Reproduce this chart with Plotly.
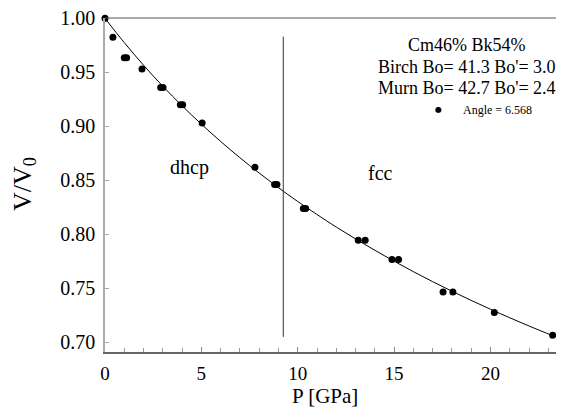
import plotly.graph_objects as go

# measured data points (P in GPa, V/V0)
p_data = [0.0, 0.41, 1.00, 1.12, 1.92, 2.89, 3.01, 3.91, 4.03, 5.04, 7.78,
          8.80, 8.92, 10.29, 10.41, 13.14, 13.50, 14.89, 15.23, 17.54, 18.05,
          20.20, 23.23]
v_data = [1.000, 0.9824, 0.9636, 0.9636, 0.953, 0.936, 0.936, 0.920, 0.920,
          0.903, 0.862, 0.846, 0.846, 0.824, 0.824, 0.7944, 0.7944, 0.7766,
          0.7766, 0.7466, 0.7466, 0.7275, 0.7065]

# fitted curve
p_fit = [0, 1, 2, 3, 4, 5, 6, 7, 8, 9, 10, 12, 14, 16, 18, 20, 22, 23.3]
v_fit = [1.0, 0.9775, 0.9566, 0.9371, 0.9190, 0.9020, 0.8860, 0.8709,
         0.8567, 0.8432, 0.8304, 0.8067, 0.7852, 0.7654, 0.7473, 0.7306,
         0.7151, 0.7056]

# phase boundary
p_boundary = [9.25, 9.25]
v_boundary = [0.705, 0.983]

x_ticks = [0, 5, 10, 15, 20]
y_ticks = [0.70, 0.75, 0.80, 0.85, 0.90, 0.95, 1.00]

FONT = "Liberation Serif"

# The page body adds an 8px margin; keep the figure fully inside the window.
OFF = 8
W, H = 548, 400
PL, PR, PT, PB = 105, 556, 18, 352  # plot area in window pixels


def px(X):
    return (X - PL) / (PR - PL)


def py(Y):
    return (PB - Y) / (PB - PT)


fig = go.Figure()
fig.add_trace(go.Scatter(x=p_fit, y=v_fit, mode="lines", line=dict(color="black", width=1, shape="spline"),
                         showlegend=False, hoverinfo="skip"))
fig.add_trace(go.Scatter(x=p_boundary, y=v_boundary, mode="lines", line=dict(color="#333", width=1),
                         showlegend=False, hoverinfo="skip"))
fig.add_trace(go.Scatter(x=p_data, y=v_data, mode="markers", marker=dict(color="black", size=7),
                         showlegend=False, cliponaxis=False))

fig.update_layout(
    width=W, height=H,
    margin=dict(l=PL - OFF, r=(OFF + W) - PR, t=PT - OFF, b=(OFF + H) - PB, pad=0),
    paper_bgcolor="white", plot_bgcolor="white",
    font=dict(family=FONT, color="black", size=20),
    xaxis=dict(range=[0, 23.4], tickvals=x_ticks, ticks="inside", ticklen=5, tickcolor="#888",
               showline=True, linecolor="#666", linewidth=1.5, showgrid=False, zeroline=False,
               minor=dict(dtick=1, ticks="inside", ticklen=4, tickcolor="#999"),
               tickfont=dict(size=19), ticklabelstandoff=3, ticklabeloverflow="allow"),
    yaxis=dict(range=[0.691, 1.0003], tickvals=y_ticks, tickformat=".2f", ticks="inside", ticklen=4,
               tickcolor="#aaa", showline=True, linecolor="#aaa", linewidth=1.5, showgrid=False,
               zeroline=False, tickfont=dict(size=20), ticklabelstandoff=4, ticklabeloverflow="allow"),
)

# top frame line
fig.add_shape(type="line", xref="paper", yref="paper", x0=0, x1=1, y0=1, y1=1,
              line=dict(color="#555", width=1))

ann = [
    dict(x=467, y=45, text="Cm46% Bk54%", size=18),
    dict(x=467, y=67, text="Birch Bo= 41.3 Bo'= 3.0", size=18),
    dict(x=467, y=88, text="Murn Bo= 42.7 Bo'= 2.4", size=18),
    dict(x=497, y=110, text="Angle = 6.568", size=12),
    dict(x=189, y=167, text="dhcp", size=20),
    dict(x=380, y=173, text="fcc", size=20),
    dict(x=325, y=396, text="P [GPa]", size=21),
]
for a in ann:
    fig.add_annotation(x=px(a["x"]), y=py(a["y"]), xref="paper", yref="paper",
                       text=a["text"], showarrow=False, font=dict(family=FONT, size=a["size"], color="black"),
                       xanchor="center", yanchor="middle")
fig.add_annotation(x=px(24), y=py(184), xref="paper", yref="paper", text="V/V<sub>0</sub>", showarrow=False,
                   textangle=-90, font=dict(family=FONT, size=26, color="black"),
                   xanchor="center", yanchor="middle")
fig.add_annotation(x=px(438), y=py(110), xref="paper", yref="paper", text="●", showarrow=False,
                   font=dict(family="DejaVu Sans", size=8, color="black"), xanchor="center", yanchor="middle")

fig.write_html("out.html")
